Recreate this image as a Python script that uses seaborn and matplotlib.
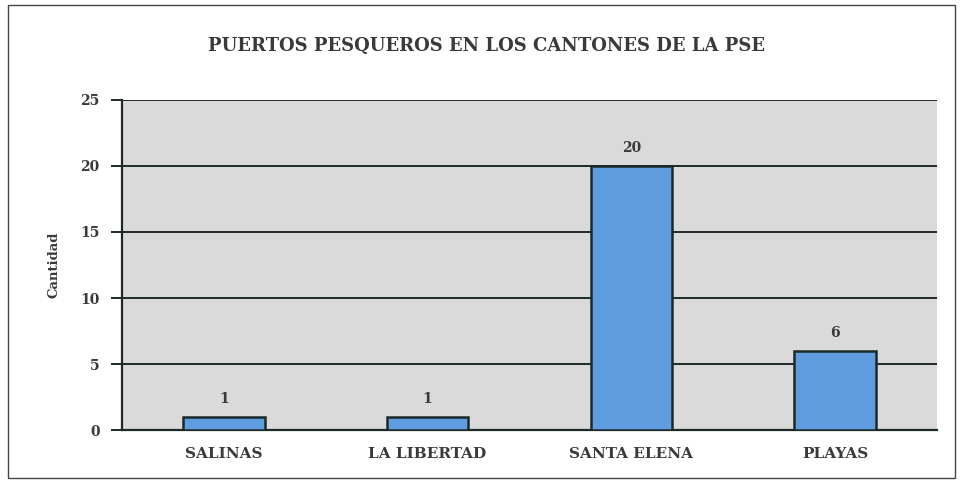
import matplotlib
matplotlib.use("Agg")
import matplotlib.pyplot as plt
import seaborn as sns
import pandas as pd
from matplotlib.patches import Rectangle

categories = ["SALINAS", "LA LIBERTAD", "SANTA ELENA", "PLAYAS"]
values = [1, 1, 20, 6]
yticks = [0, 5, 10, 15, 20, 25]
title = "PUERTOS PESQUEROS EN LOS CANTONES DE LA PSE"
ylabel = "Cantidad"

df = pd.DataFrame({"canton": categories, "cantidad": values})

sns.set_style("white")
plt.rcParams["font.family"] = ["DejaVu Serif", "Liberation Serif"]
plt.rcParams["font.weight"] = "bold"

fig = plt.figure(figsize=(9.62, 4.83), dpi=100)
ax = fig.add_axes([0.1268, 0.1097, 0.974 - 0.1268, 0.793 - 0.1097])
ax.set_facecolor("#dadada")

sns.barplot(data=df, x="canton", y="cantidad", ax=ax, color="#5f9de0",
            width=0.4, edgecolor="#1a2a2a", linewidth=1.8, saturation=1, zorder=3)

ax.set_ylim(0, 25)
ax.set_yticks(yticks)
ax.set_xlim(-0.5, len(categories) - 0.5)
ax.grid(axis="y", color="#1e2a28", linewidth=1.4, zorder=1)
ax.set_axisbelow(True)
for s in ["top", "right"]:
    ax.spines[s].set_visible(False)
for s in ["left", "bottom"]:
    ax.spines[s].set_color("#1e2a28")
    ax.spines[s].set_linewidth(1.6)

ax.tick_params(axis="y", left=True, direction="out", length=8, width=1.4,
               color="#1e2a28", labelsize=10, labelcolor="#3a3a3a", pad=8)
ax.tick_params(axis="x", bottom=False, length=0, labelsize=11,
               labelcolor="#3a3a3a", pad=12)
for lbl in ax.get_xticklabels() + ax.get_yticklabels():
    lbl.set_fontweight("bold")

ax.set_xlabel("")
ax.set_ylabel(ylabel, fontsize=9.5, fontweight="bold", color="#3a3a3a", labelpad=14)

for c in ax.containers:
    ax.bar_label(c, labels=[str(v) for v in values], padding=8, fontsize=10,
                 fontweight="bold", color="#3a3a3a")

fig.text(0.506, 0.905, title, ha="center", va="center", fontsize=13,
         fontweight="bold", color="#3a3a3a")

fig.patches.append(Rectangle((0.008, 0.01), 0.985, 0.98, transform=fig.transFigure,
                             fill=False, edgecolor="#444444", linewidth=1.0))

fig.savefig("out.png", dpi=100, facecolor="white")
